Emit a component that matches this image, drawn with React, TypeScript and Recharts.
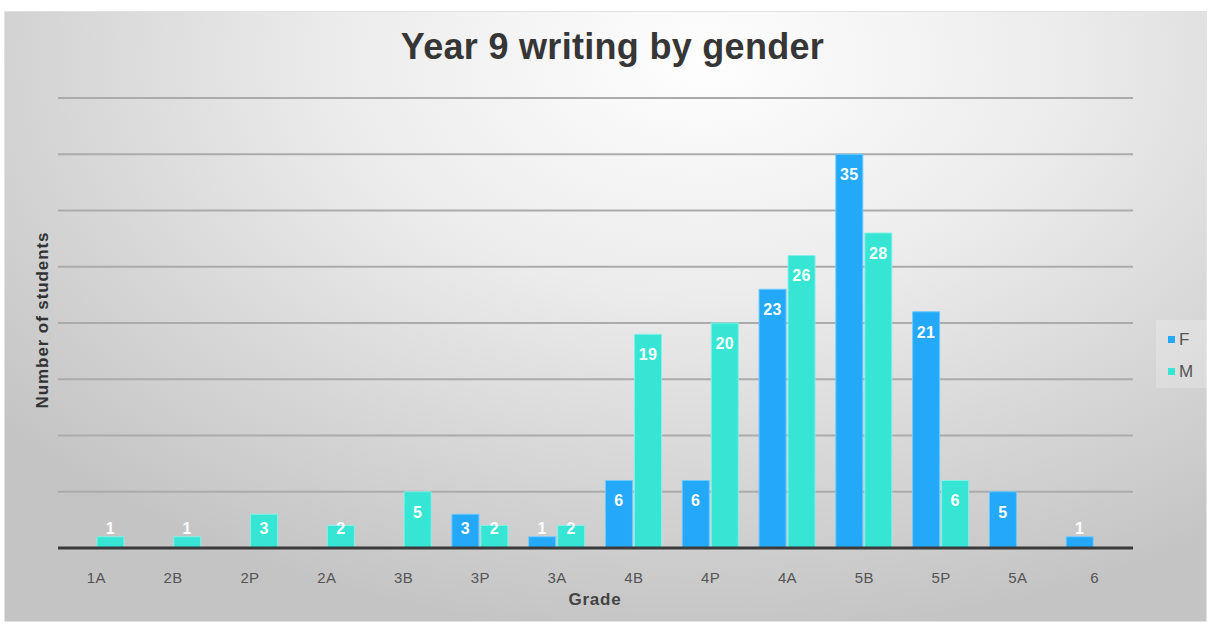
import React from 'react';
import { BarChart, Bar, XAxis, YAxis, CartesianGrid, LabelList } from 'recharts';

const grades = ['1A', '2B', '2P', '2A', '3B', '3P', '3A', '4B', '4P', '4A', '5B', '5P', '5A', '6'];
const female = [0, 0, 0, 0, 0, 3, 1, 6, 6, 23, 35, 21, 5, 1];
const male = [1, 1, 3, 2, 5, 2, 2, 19, 20, 26, 28, 6, 0, 0];
const yTicks = [0, 5, 10, 15, 20, 25, 30, 35, 40];

const data = grades.map((grade, i) => ({ grade, F: female[i], M: male[i] }));

const FONT = '"Liberation Sans", Arial, Helvetica, sans-serif';
const BLUE = '#23a8fa';
const TEAL = '#36e5d4';

const series = [
  { key: 'F', color: BLUE, edge: '#6fcaff' },
  { key: 'M', color: TEAL, edge: '#86f0e6' },
];

const W = 1213;
const H = 628;
// the x axis band (30px) sits inside the bottom margin
const MARGIN = { top: 98, right: 80, bottom: 50, left: 58 };

// white value label near the top of each bar, kept clear of the baseline on short bars
const ValueLabel = (props: any) => {
  const { x, y, width, height, value } = props;
  if (!value) return null;
  const cy = Math.min(y + 20, y + height - 20);
  return (
    <text
      x={x + width / 2}
      y={cy}
      dy="0.36em"
      textAnchor="middle"
      fill="#ffffff"
      fontFamily={FONT}
      fontWeight="bold"
      fontSize={16}
      letterSpacing={0.4}
    >
      {value}
    </text>
  );
};

// y axis keeps its ticks for the grid but draws no text
const NoTick = () => <g />;

export default function App() {
  return (
    <div style={{ position: 'absolute', left: 0, top: 0, width: W, height: H, background: '#fff' }}>
      <div
        style={{
          position: 'absolute',
          left: 4,
          top: 11,
          width: 1203,
          height: 611,
          border: '1px solid #e2e2e2',
          boxSizing: 'border-box',
          background:
            'radial-gradient(ellipse 75% 95% at 58% 8%, #fefefe 0%, #ececec 40%, #d6d6d6 72%, #c4c4c4 100%)',
        }}
      />
      <div
        style={{
          position: 'absolute',
          left: 6,
          width: W,
          top: 26,
          textAlign: 'center',
          fontFamily: FONT,
          fontWeight: 'bold',
          fontSize: 36,
          letterSpacing: 0.3,
          color: '#363636',
        }}
      >
        Year 9 writing by gender
      </div>
      <div
        style={{
          position: 'absolute',
          left: 43,
          top: 320,
          transform: 'translate(-50%, -50%) rotate(-90deg)',
          whiteSpace: 'nowrap',
          fontFamily: FONT,
          fontWeight: 'bold',
          fontSize: 17,
          letterSpacing: 0.9,
          color: '#333',
        }}
      >
        Number of students
      </div>
      <div
        style={{
          position: 'absolute',
          left: 595,
          top: 600,
          transform: 'translate(-50%, -50%)',
          fontFamily: FONT,
          fontWeight: 'bold',
          fontSize: 17,
          letterSpacing: 0.8,
          color: '#444',
        }}
      >
        Grade
      </div>
      <div
        style={{
          position: 'absolute',
          left: 1156,
          top: 320,
          width: 51,
          height: 68,
          background: 'rgba(255,255,255,0.22)',
          boxSizing: 'border-box',
          paddingTop: 3,
          paddingLeft: 12,
          fontFamily: FONT,
          fontSize: 17,
          color: '#555',
        }}
      >
        {series.map((s) => (
          <div key={s.key} style={{ display: 'flex', alignItems: 'center', height: 32 }}>
            <span style={{ width: 7, height: 7, background: s.color, display: 'inline-block', marginRight: 4 }} />
            <span style={{ lineHeight: '17px' }}>{s.key}</span>
          </div>
        ))}
      </div>
      <div style={{ position: 'absolute', left: 0, top: 0 }}>
        <BarChart
          width={W}
          height={H}
          data={data}
          margin={MARGIN}
          barCategoryGap="13%"
          barGap={2}
        >
          <CartesianGrid vertical={false} stroke="#ababab" strokeWidth={1.8} />
          <YAxis
            width={0}
            domain={[0, 40]}
            ticks={yTicks}
            tick={NoTick}
            axisLine={false}
            tickLine={false}
          />
          <XAxis
            dataKey="grade"
            axisLine={{ stroke: '#3a3a3a', strokeWidth: 3 }}
            tickLine={false}
            tickSize={6}
            tickMargin={18}
            tick={{ fill: '#555', fontSize: 15, fontFamily: FONT, letterSpacing: 0.4 }}
            interval={0}
          />
          {series.map((s) => (
            <Bar
              key={s.key}
              dataKey={s.key}
              name={s.key}
              fill={s.color}
              stroke={s.edge}
              strokeWidth={1}
              isAnimationActive={false}
            >
              <LabelList dataKey={s.key} content={<ValueLabel />} />
            </Bar>
          ))}
        </BarChart>
      </div>
    </div>
  );
}
